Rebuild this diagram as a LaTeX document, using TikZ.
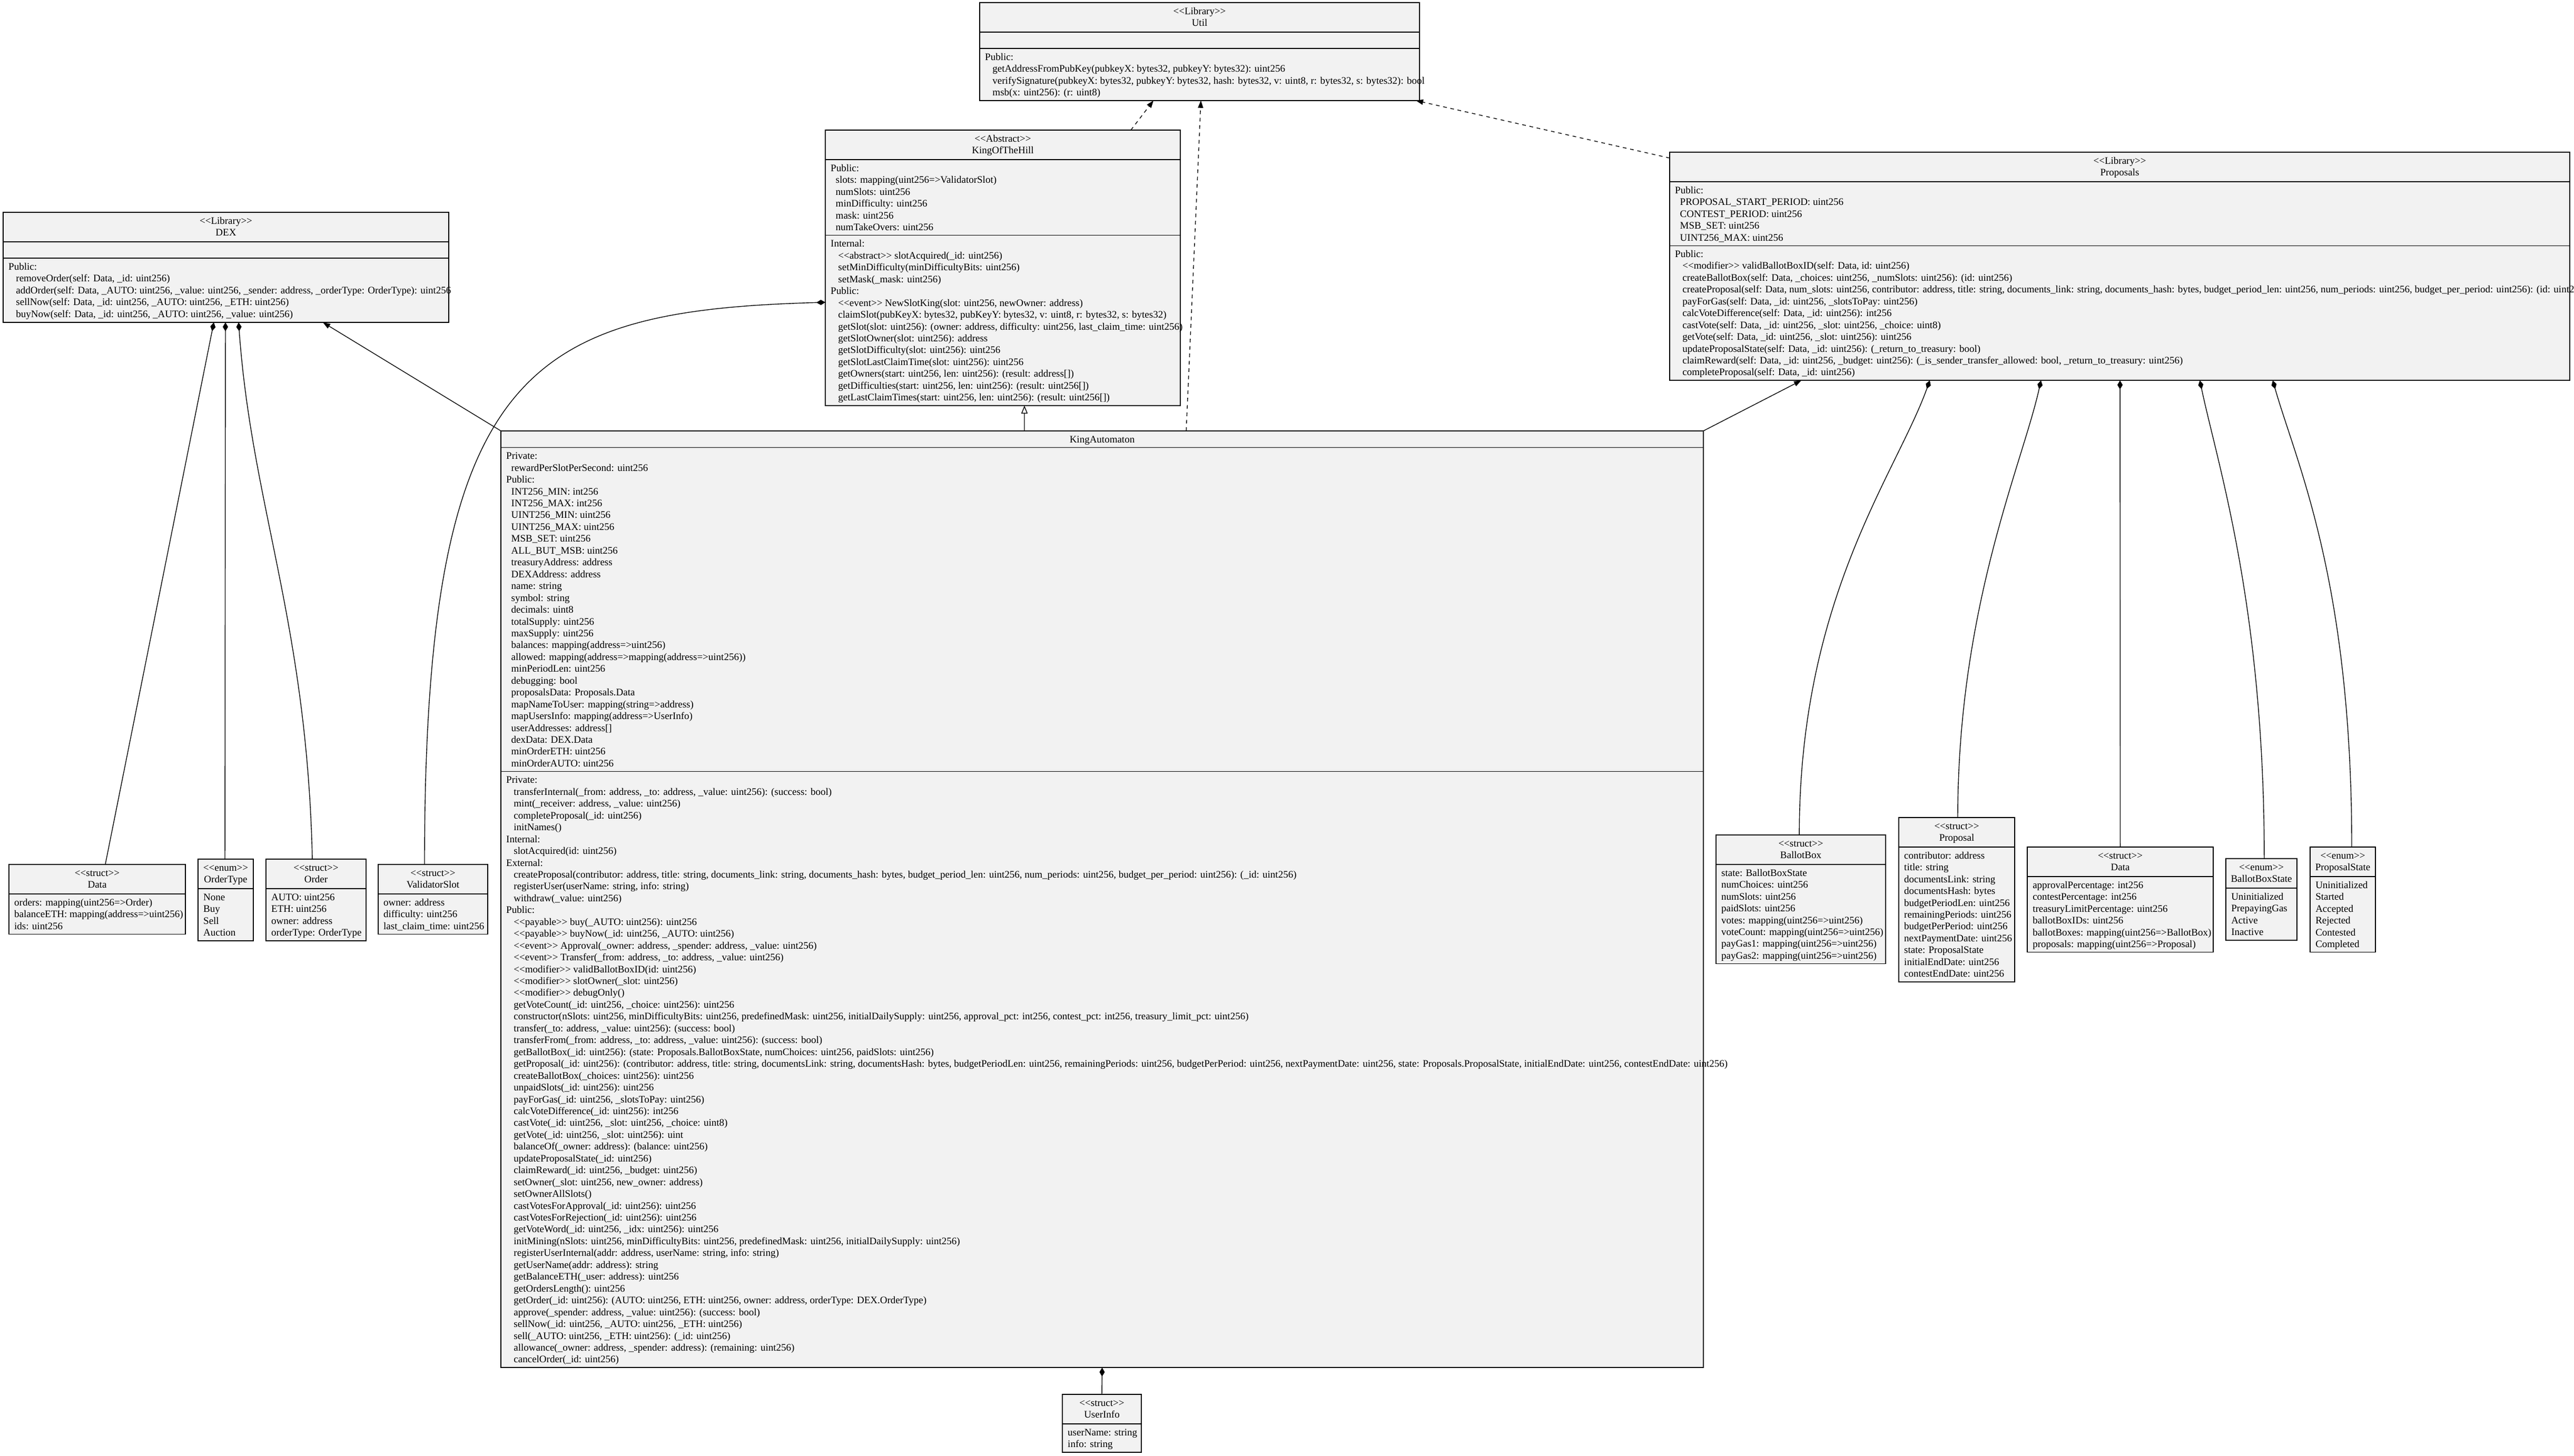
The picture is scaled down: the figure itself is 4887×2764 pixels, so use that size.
\documentclass[tikz,border=0pt]{standalone}
\usepackage{fontspec}
\setmainfont{Liberation Serif}[Ligatures=TeXOff]
\usetikzlibrary{arrows.meta,calc}
\definecolor{boxfill}{HTML}{F2F2F2}
\newcommand\Fs{\rule{0pt}{17pt}}
\newcommand\Ai{\hspace*{9.5pt}}
\newcommand\Mi{\hspace*{14.25pt}}
\tikzset{
  umlbox/.style={draw=black, line width=1.5pt, fill=boxfill, rectangle, inner sep=0pt, outer sep=0pt, anchor=north west},
  divline/.style={draw=black, line width=1.5pt},
  hdrtext/.style={anchor=north, align=center, inner sep=0pt, font=\fontsize{19}{22.45}\selectfont},
  bodytext/.style={anchor=north west, align=left, inner sep=0pt, font=\fontsize{19}{22.45}\selectfont},
  edgeline/.style={line width=1.4pt, draw=black},
  dep/.style={edgeline, dash pattern=on 7pt off 7pt, -{Triangle[length=14pt,width=10pt]}},
  assoc/.style={edgeline, -{Triangle[length=14pt,width=10pt]}},
  inherit/.style={edgeline, -{Triangle[open,length=15pt,width=12pt,line width=1.4pt]}},
  compos/.style={edgeline, -{Diamond[length=17pt,width=10pt]}},
}
\newcommand\umlnode[6]{%
  \node[umlbox, minimum width=#4pt, minimum height=#5pt] (#1) at (#2,#3) {};
  \node[hdrtext] (#1-h) at ($(#1.north)+(0,5)$) {\Fs #6};}
\newcommand\divider[2]{%
  \draw[divline] ($(#1.north west)+(0,#2)$) -- ($(#1.north east)+(0,#2)$);}
\newcommand\compart[4]{%
  \divider{#1}{#3}%
  \node[bodytext] (#1-#2) at ($(#1.north west)+(10,#3+5)$) {\Fs #4};}
\begin{document}
\begin{tikzpicture}[x=1pt,y=-1pt]
\useasboundingbox (0,0) rectangle (4887,2764);
\fill[white] (0,0) rectangle (4887,2764);

% ---------------- Util
\umlnode{util}{1860}{5}{835}{185.8}{<<Library>>\\Util}
\divider{util}{56}
\compart{util}{m}{87}{Public:\\
\Mi getAddressFromPubKey(pubkeyX: bytes32, pubkeyY: bytes32): uint256\\
\Mi verifySignature(pubkeyX: bytes32, pubkeyY: bytes32, hash: bytes32, v: uint8, r: bytes32, s: bytes32): bool\\
\Mi msb(x: uint256): (r: uint8)}

% ---------------- KingOfTheHill
\umlnode{koth}{1567}{247}{674}{523}{<<Abstract>>\\KingOfTheHill}
\compart{koth}{a}{56}{Public:\\
\Ai slots: mapping(uint256=>ValidatorSlot)\\
\Ai numSlots: uint256\\
\Ai minDifficulty: uint256\\
\Ai mask: uint256\\
\Ai numTakeOvers: uint256}
\compart{koth}{m}{199.7}{Internal:\\
\Mi <<abstract>> slotAcquired(\_id: uint256)\\
\Mi setMinDifficulty(minDifficultyBits: uint256)\\
\Mi setMask(\_mask: uint256)\\
Public:\\
\Mi <<event>> NewSlotKing(slot: uint256, newOwner: address)\\
\Mi claimSlot(pubKeyX: bytes32, pubKeyY: bytes32, v: uint8, r: bytes32, s: bytes32)\\
\Mi getSlot(slot: uint256): (owner: address, difficulty: uint256, last\_claim\_time: uint256)\\
\Mi getSlotOwner(slot: uint256): address\\
\Mi getSlotDifficulty(slot: uint256): uint256\\
\Mi getSlotLastClaimTime(slot: uint256): uint256\\
\Mi getOwners(start: uint256, len: uint256): (result: address[])\\
\Mi getDifficulties(start: uint256, len: uint256): (result: uint256[])\\
\Mi getLastClaimTimes(start: uint256, len: uint256): (result: uint256[])}

% ---------------- DEX
\umlnode{dex}{6}{403}{846}{209}{<<Library>>\\DEX}
\divider{dex}{56}
\compart{dex}{m}{87}{Public:\\
\Mi removeOrder(self: Data, \_id: uint256)\\
\Mi addOrder(self: Data, \_AUTO: uint256, \_value: uint256, \_sender: address, \_orderType: OrderType): uint256\\
\Mi sellNow(self: Data, \_id: uint256, \_AUTO: uint256, \_ETH: uint256)\\
\Mi buyNow(self: Data, \_id: uint256, \_AUTO: uint256, \_value: uint256)}

% ---------------- Proposals
\umlnode{props}{3170}{289}{1709}{433.2}{<<Library>>\\Proposals}
\compart{props}{a}{56}{Public:\\
\Ai PROPOSAL\_START\_PERIOD: uint256\\
\Ai CONTEST\_PERIOD: uint256\\
\Ai MSB\_SET: uint256\\
\Ai UINT256\_MAX: uint256}
\compart{props}{m}{177.25}{Public:\\
\Mi <<modifier>> validBallotBoxID(self: Data, id: uint256)\\
\Mi createBallotBox(self: Data, \_choices: uint256, \_numSlots: uint256): (id: uint256)\\
\Mi createProposal(self: Data, num\_slots: uint256, contributor: address, title: string, documents\_link: string, documents\_hash: bytes, budget\_period\_len: uint256, num\_periods: uint256, budget\_per\_period: uint256): (id: uint256)\\
\Mi payForGas(self: Data, \_id: uint256, \_slotsToPay: uint256)\\
\Mi calcVoteDifference(self: Data, \_id: uint256): int256\\
\Mi castVote(self: Data, \_id: uint256, \_slot: uint256, \_choice: uint8)\\
\Mi getVote(self: Data, \_id: uint256, \_slot: uint256): uint256\\
\Mi updateProposalState(self: Data, \_id: uint256): (\_return\_to\_treasury: bool)\\
\Mi claimReward(self: Data, \_id: uint256, \_budget: uint256): (\_is\_sender\_transfer\_allowed: bool, \_return\_to\_treasury: uint256)\\
\Mi completeProposal(self: Data, \_id: uint256)}

% ---------------- KingAutomaton
\umlnode{ka}{951}{818}{2283}{1778.15}{KingAutomaton}
\compart{ka}{a}{31.5}{Private:\\
\Ai rewardPerSlotPerSecond: uint256\\
Public:\\
\Ai INT256\_MIN: int256\\
\Ai INT256\_MAX: int256\\
\Ai UINT256\_MIN: uint256\\
\Ai UINT256\_MAX: uint256\\
\Ai MSB\_SET: uint256\\
\Ai ALL\_BUT\_MSB: uint256\\
\Ai treasuryAddress: address\\
\Ai DEXAddress: address\\
\Ai name: string\\
\Ai symbol: string\\
\Ai decimals: uint8\\
\Ai totalSupply: uint256\\
\Ai maxSupply: uint256\\
\Ai balances: mapping(address=>uint256)\\
\Ai allowed: mapping(address=>mapping(address=>uint256))\\
\Ai minPeriodLen: uint256\\
\Ai debugging: bool\\
\Ai proposalsData: Proposals.Data\\
\Ai mapNameToUser: mapping(string=>address)\\
\Ai mapUsersInfo: mapping(address=>UserInfo)\\
\Ai userAddresses: address[]\\
\Ai dexData: DEX.Data\\
\Ai minOrderETH: uint256\\
\Ai minOrderAUTO: uint256}
\compart{ka}{m}{646.65}{Private:\\
\Mi transferInternal(\_from: address, \_to: address, \_value: uint256): (success: bool)\\
\Mi mint(\_receiver: address, \_value: uint256)\\
\Mi completeProposal(\_id: uint256)\\
\Mi initNames()\\
Internal:\\
\Mi slotAcquired(id: uint256)\\
External:\\
\Mi createProposal(contributor: address, title: string, documents\_link: string, documents\_hash: bytes, budget\_period\_len: uint256, num\_periods: uint256, budget\_per\_period: uint256): (\_id: uint256)\\
\Mi registerUser(userName: string, info: string)\\
\Mi withdraw(\_value: uint256)\\
Public:\\
\Mi <<payable>> buy(\_AUTO: uint256): uint256\\
\Mi <<payable>> buyNow(\_id: uint256, \_AUTO: uint256)\\
\Mi <<event>> Approval(\_owner: address, \_spender: address, \_value: uint256)\\
\Mi <<event>> Transfer(\_from: address, \_to: address, \_value: uint256)\\
\Mi <<modifier>> validBallotBoxID(id: uint256)\\
\Mi <<modifier>> slotOwner(\_slot: uint256)\\
\Mi <<modifier>> debugOnly()\\
\Mi getVoteCount(\_id: uint256, \_choice: uint256): uint256\\
\Mi constructor(nSlots: uint256, minDifficultyBits: uint256, predefinedMask: uint256, initialDailySupply: uint256, approval\_pct: int256, contest\_pct: int256, treasury\_limit\_pct: uint256)\\
\Mi transfer(\_to: address, \_value: uint256): (success: bool)\\
\Mi transferFrom(\_from: address, \_to: address, \_value: uint256): (success: bool)\\
\Mi getBallotBox(\_id: uint256): (state: Proposals.BallotBoxState, numChoices: uint256, paidSlots: uint256)\\
\Mi getProposal(\_id: uint256): (contributor: address, title: string, documentsLink: string, documentsHash: bytes, budgetPeriodLen: uint256, remainingPeriods: uint256, budgetPerPeriod: uint256, nextPaymentDate: uint256, state: Proposals.ProposalState, initialEndDate: uint256, contestEndDate: uint256)\\
\Mi createBallotBox(\_choices: uint256): uint256\\
\Mi unpaidSlots(\_id: uint256): uint256\\
\Mi payForGas(\_id: uint256, \_slotsToPay: uint256)\\
\Mi calcVoteDifference(\_id: uint256): int256\\
\Mi castVote(\_id: uint256, \_slot: uint256, \_choice: uint8)\\
\Mi getVote(\_id: uint256, \_slot: uint256): uint\\
\Mi balanceOf(\_owner: address): (balance: uint256)\\
\Mi updateProposalState(\_id: uint256)\\
\Mi claimReward(\_id: uint256, \_budget: uint256)\\
\Mi setOwner(\_slot: uint256, new\_owner: address)\\
\Mi setOwnerAllSlots()\\
\Mi castVotesForApproval(\_id: uint256): uint256\\
\Mi castVotesForRejection(\_id: uint256): uint256\\
\Mi getVoteWord(\_id: uint256, \_idx: uint256): uint256\\
\Mi initMining(nSlots: uint256, minDifficultyBits: uint256, predefinedMask: uint256, initialDailySupply: uint256)\\
\Mi registerUserInternal(addr: address, userName: string, info: string)\\
\Mi getUserName(addr: address): string\\
\Mi getBalanceETH(\_user: address): uint256\\
\Mi getOrdersLength(): uint256\\
\Mi getOrder(\_id: uint256): (AUTO: uint256, ETH: uint256, owner: address, orderType: DEX.OrderType)\\
\Mi approve(\_spender: address, \_value: uint256): (success: bool)\\
\Mi sellNow(\_id: uint256, \_AUTO: uint256, \_ETH: uint256)\\
\Mi sell(\_AUTO: uint256, \_ETH: uint256): (\_id: uint256)\\
\Mi allowance(\_owner: address, \_spender: address): (remaining: uint256)\\
\Mi cancelOrder(\_id: uint256)}

% ---------------- DEX structs
\umlnode{dexdata}{17}{1641}{335}{132.35}{<<struct>>\\Data}
\compart{dexdata}{a}{56}{orders: mapping(uint256=>Order)\\
balanceETH: mapping(address=>uint256)\\
ids: uint256}
\umlnode{ordertype}{376}{1631}{105}{154.8}{<<enum>>\\OrderType}
\compart{ordertype}{a}{56}{None\\Buy\\Sell\\Auction}
\umlnode{order}{505}{1631}{190}{154.8}{<<struct>>\\Order}
\compart{order}{a}{56}{AUTO: uint256\\
ETH: uint256\\
owner: address\\
orderType: OrderType}
\umlnode{vslot}{718}{1641}{208}{132.35}{<<struct>>\\ValidatorSlot}
\compart{vslot}{a}{56}{owner: address\\
difficulty: uint256\\
last\_claim\_time: uint256}

% ---------------- Proposals structs
\umlnode{bbox}{3258}{1585}{322}{244.6}{<<struct>>\\BallotBox}
\compart{bbox}{a}{56}{state: BallotBoxState\\
numChoices: uint256\\
numSlots: uint256\\
paidSlots: uint256\\
votes: mapping(uint256=>uint256)\\
voteCount: mapping(uint256=>uint256)\\
payGas1: mapping(uint256=>uint256)\\
payGas2: mapping(uint256=>uint256)}
\umlnode{proposal}{3605}{1552}{220}{311.95}{<<struct>>\\Proposal}
\compart{proposal}{a}{56}{contributor: address\\
title: string\\
documentsLink: string\\
documentsHash: bytes\\
budgetPeriodLen: uint256\\
remainingPeriods: uint256\\
budgetPerPeriod: uint256\\
nextPaymentDate: uint256\\
state: ProposalState\\
initialEndDate: uint256\\
contestEndDate: uint256}
\umlnode{pdata}{3849}{1608}{353}{199.7}{<<struct>>\\Data}
\compart{pdata}{a}{56}{approvalPercentage: int256\\
contestPercentage: int256\\
treasuryLimitPercentage: uint256\\
ballotBoxIDs: uint256\\
ballotBoxes: mapping(uint256=>BallotBox)\\
proposals: mapping(uint256=>Proposal)}
\umlnode{bbstate}{4226}{1630}{135}{154.8}{<<enum>>\\BallotBoxState}
\compart{bbstate}{a}{56}{Uninitialized\\PrepayingGas\\Active\\Inactive}
\umlnode{pstate}{4386}{1608}{124}{199.7}{<<enum>>\\ProposalState}
\compart{pstate}{a}{56}{Uninitialized\\Started\\Accepted\\Rejected\\Contested\\Completed}

% ---------------- UserInfo
\umlnode{uinfo}{2017}{2647}{150}{109.9}{<<struct>>\\UserInfo}
\compart{uinfo}{a}{56}{userName: string\\
info: string}

% ---------------- connectors
\draw[dep] ($(koth.north west)!0.8605!(koth.north east)$) -- ($(util.south west)!0.3952!(util.south east)$);
\draw[dep] ($(ka.north west)!0.5699!(ka.north east)$) -- ($(util.south west)!0.503!(util.south east)$);
\draw[dep] ($(props.north west)!0.0254!(props.south west)$) -- ($(util.south west)!0.9916!(util.south east)$);
\draw[inherit] ($(ka.north west)!0.4354!(ka.north east)$) -- ($(koth.south west)!0.5608!(koth.south east)$);
\draw[assoc] (ka.north west) -- ($(dex.south west)!0.7175!(dex.south east)$);
\draw[assoc] (ka.north east) -- ($(props.south west)!0.1463!(props.south east)$);

\draw[compos] ($(dexdata.north west)!0.546!(dexdata.north east)$) -- ($(dex.south west)!0.4728!(dex.south east)$);
\draw[compos] ($(ordertype.north west)!0.486!(ordertype.north east)$) -- ($(dex.south west)!0.4988!(dex.south east)$);
\draw[compos] ($(order.north west)!0.463!(order.north east)$) .. controls +(-10,-450) and +(25,350) .. ($(dex.south west)!0.5284!(dex.south east)$);
\draw[compos] ($(vslot.north west)!0.423!(vslot.north east)$) .. controls +(0,-941) and +(-567,16) .. ($(koth.north west)!0.625!(koth.south west)$);

\draw[compos] ($(bbox.north west)!0.491!(bbox.north east)$) .. controls +(0,-450) and +(-64,178) .. ($(props.south west)!0.289!(props.south east)$);
\draw[compos] ($(proposal.north west)!0.509!(proposal.north east)$) .. controls +(0,-400) and +(-35,158) .. ($(props.south west)!0.4125!(props.south east)$);
\draw[compos] (pdata.north) -- ($(props.south west)!0.5003!(props.south east)$);
\draw[compos] ($(bbstate.north west)!0.54!(bbstate.north east)$) .. controls +(0,-480) and +(33,158) .. ($(props.south west)!0.589!(props.south east)$);
\draw[compos] ($(pstate.north west)!0.637!(pstate.north east)$) .. controls +(0,-508) and +(45,158) .. ($(props.south west)!0.670!(props.south east)$);

\draw[compos] (uinfo.north) -- (ka.south);
\end{tikzpicture}
\end{document}
